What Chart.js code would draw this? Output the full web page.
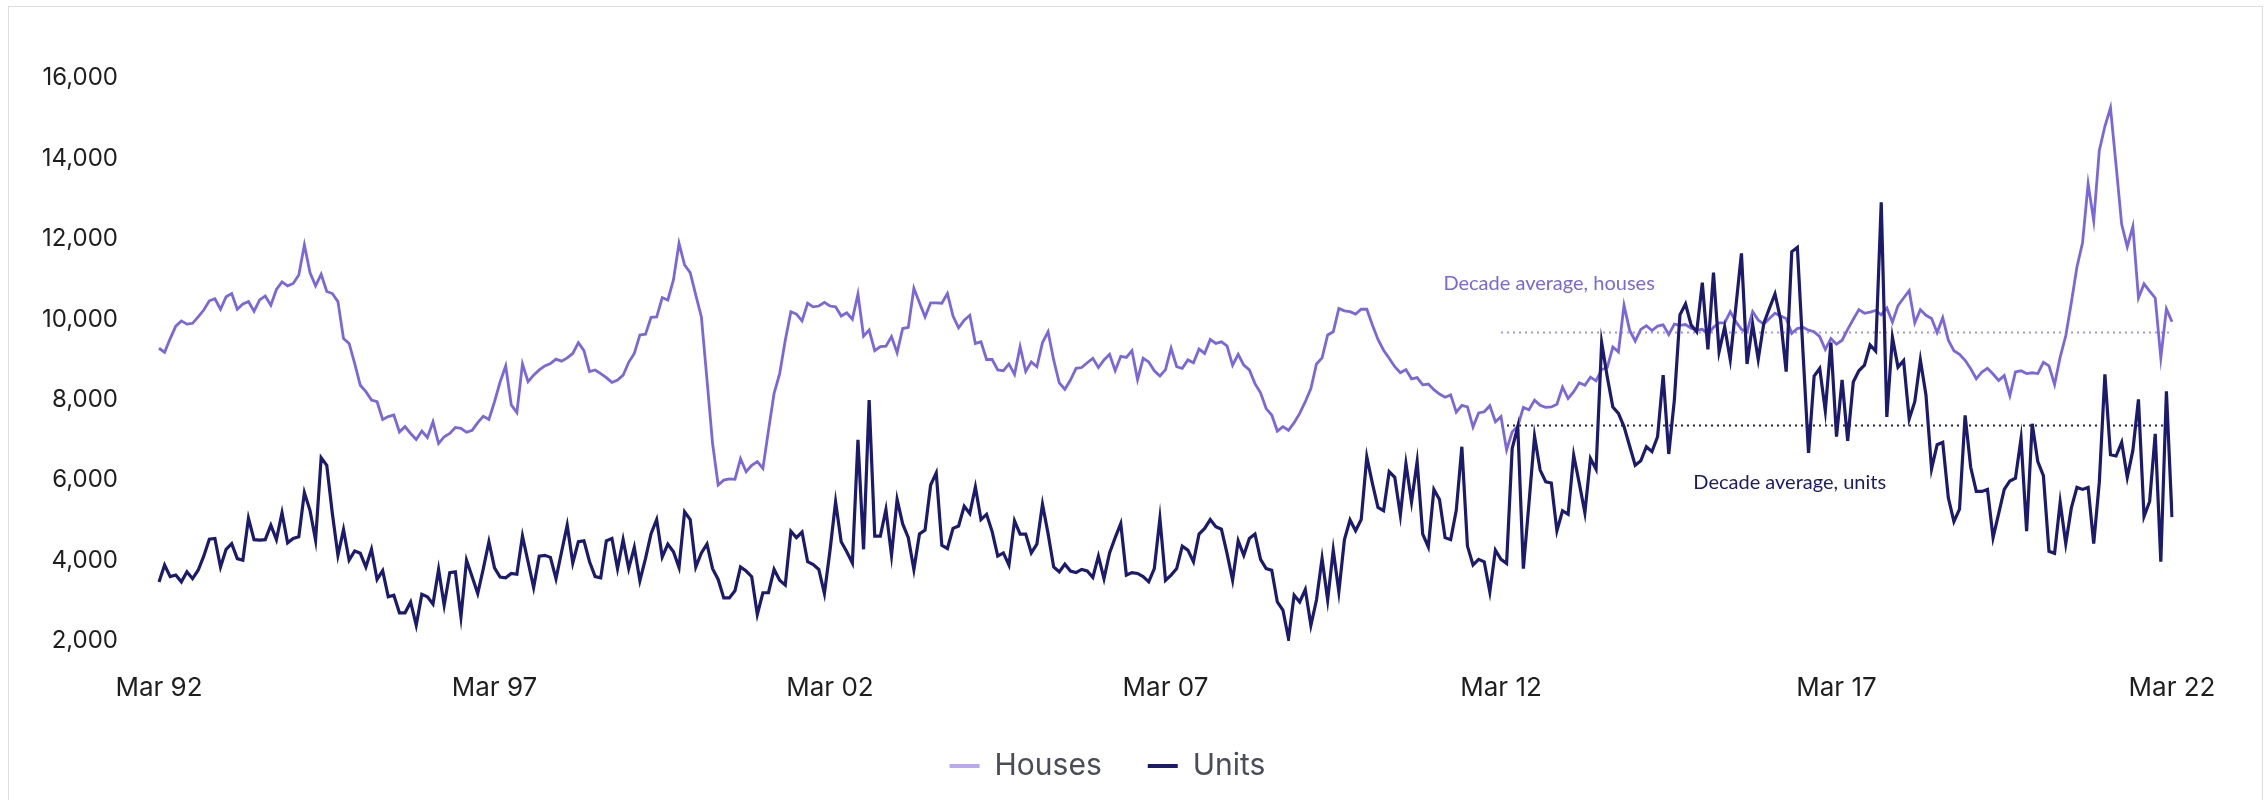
<!DOCTYPE html>
<html>
<head>
<meta charset="utf-8">
<script src="https://cdn.jsdelivr.net/npm/chart.js@4"></script>
<style>
  html, body { margin: 0; padding: 0; background: #fff; overflow: hidden; }
  .card {
    position: absolute; left: 8px; top: 6px;
    width: 2253px; height: 830px;
    border: 1px solid #dedede;
  }
  .wrap { position: relative; width: 2253px; height: 793px; }
</style>
</head>
<body>
<div class="card"><div class="wrap"><canvas id="myChart"></canvas></div></div>
<script>
// Monthly values, Mar 1992 to Mar 2022
const houses = [
  9280, 9180, 9520, 9830, 9960, 9880, 9900, 10060, 10230, 10460,
  10510, 10250, 10560, 10640, 10250, 10380, 10440, 10200, 10480, 10580,
  10350, 10740, 10930, 10830, 10890, 11100, 11850, 11160, 10830, 11120,
  10690, 10640, 10440, 9520, 9400, 8900, 8360, 8200, 7990, 7950,
  7510, 7580, 7620, 7200, 7330, 7160, 7010, 7220, 7060, 7450,
  6910, 7080, 7160, 7310, 7290, 7190, 7240, 7430, 7590, 7510,
  7950, 8440, 8840, 7870, 7680, 8890, 8450, 8610, 8740, 8840,
  8900, 9010, 8960, 9040, 9150, 9420, 9220, 8700, 8740, 8650,
  8550, 8430, 8490, 8610, 8930, 9150, 9610, 9630, 10050, 10060,
  10540, 10480, 10980, 11890, 11350, 11160, 10600, 10060, 8500, 6910,
  5880, 6000, 6030, 6020, 6530, 6210, 6370, 6460, 6290, 7240,
  8160, 8650, 9480, 10190, 10130, 9960, 10400, 10310, 10330, 10420,
  10330, 10310, 10080, 10160, 10000, 10630, 9580, 9730, 9220, 9320,
  9330, 9570, 9170, 9770, 9800, 10770, 10410, 10060, 10410, 10410,
  10400, 10640, 10080, 9790, 9980, 10100, 9400, 9440, 9000, 9000,
  8740, 8720, 8890, 8630, 9320, 8700, 8940, 8820, 9420, 9690,
  8990, 8420, 8260, 8490, 8780, 8800, 8920, 9030, 8800, 8990,
  9130, 8720, 9080, 9050, 9220, 8500, 9030, 8940, 8720, 8590,
  8750, 9280, 8820, 8780, 8990, 8920, 9260, 9150, 9500, 9400,
  9440, 9340, 8860, 9130, 8860, 8740, 8400, 8170, 7780, 7620,
  7220, 7330, 7240, 7430, 7660, 7950, 8280, 8890, 9040, 9610,
  9690, 10270, 10210, 10190, 10130, 10250, 10250, 9860, 9500, 9230,
  9030, 8820, 8670, 8750, 8520, 8550, 8370, 8390, 8250, 8140,
  8060, 8120, 7690, 7860, 7820, 7320, 7670, 7700, 7850, 7450,
  7580, 6750, 7200, 7340, 7810, 7750, 7990, 7860, 7810, 7820,
  7890, 8310, 8030, 8200, 8420, 8360, 8560, 8470, 8750, 8800,
  9310, 9190, 10350, 9730, 9460, 9750, 9840, 9720, 9830, 9860,
  9620, 9880, 9850, 9870, 9780, 9730, 9750, 9630, 9800, 9910,
  9910, 10190, 9940, 9750, 9690, 10190, 9980, 9880, 10020, 10150,
  10080, 10020, 9650, 9770, 9800, 9730, 9690, 9570, 9250, 9520,
  9380, 9480, 9750, 10000, 10240, 10150, 10180, 10220, 10110, 10280,
  9930, 10340, 10530, 10710, 9910, 10240, 10100, 10020, 9670, 10040,
  9480, 9220, 9130, 8980, 8770, 8520, 8690, 8780, 8640, 8480,
  8600, 8100, 8690, 8720, 8650, 8670, 8650, 8930, 8840, 8380,
  9060, 9590, 10420, 11300, 11900, 13370, 12450, 14200, 14800, 15260,
  13830, 12360, 11800, 12310, 10530, 10880, 10700, 10530, 9040, 10260, 9940
];

const units = [
  3470, 3890, 3600, 3640, 3470, 3720, 3550, 3760, 4110, 4530,
  4550, 3840, 4280, 4420, 4050, 4010, 5050, 4520, 4510, 4520,
  4880, 4520, 5190, 4440, 4550, 4590, 5690, 5250, 4510, 6560,
  6370, 5170, 4130, 4770, 4010, 4240, 4180, 3840, 4280, 3530,
  3750, 3100, 3140, 2700, 2700, 2970, 2390, 3160, 3100, 2920,
  3780, 2890, 3700, 3720, 2600, 4010, 3600, 3180, 3800, 4470,
  3820, 3590, 3570, 3680, 3660, 4610, 3970, 3330, 4110, 4130,
  4080, 3550, 4220, 4880, 3940, 4470, 4490, 3970, 3600, 3570,
  4490, 4550, 3800, 4520, 3800, 4330, 3500, 4050, 4670, 5020,
  4090, 4410, 4220, 3830, 5210, 5020, 3840, 4190, 4410, 3800,
  3530, 3070, 3070, 3250, 3840, 3740, 3600, 2660, 3200, 3200,
  3780, 3510, 3390, 4730, 4570, 4710, 3970, 3900, 3780, 3180,
  4250, 5460, 4470, 4220, 3940, 7000, 4280, 7990, 4610, 4610,
  5270, 4130, 5520, 4910, 4570, 3780, 4660, 4760, 5880, 6180,
  4380, 4300, 4800, 4860, 5350, 5170, 5830, 5020, 5150, 4720,
  4110, 4190, 3890, 4990, 4660, 4660, 4190, 4410, 5400, 4670,
  3840, 3720, 3910, 3740, 3700, 3780, 3740, 3580, 4110, 3550,
  4190, 4570, 4920, 3640, 3700, 3680, 3600, 3470, 3800, 5050,
  3510, 3640, 3800, 4360, 4260, 3970, 4660, 4800, 5020, 4840,
  4780, 4180, 3510, 4490, 4130, 4550, 4660, 4030, 3800, 3760,
  2970, 2770, 2060, 3140, 2970, 3280, 2390, 3020, 4050, 3020,
  4260, 3220, 4520, 5010, 4740, 5020, 6580, 5920, 5320, 5240,
  6210, 6070, 5130, 6410, 5460, 6460, 4660, 4340, 5770, 5520,
  4570, 4520, 5250, 6830, 4360, 3890, 4030, 3970, 3220, 4260,
  4030, 3930, 6790, 7330, 3800, 5420, 7090, 6250, 5960, 5930,
  4740, 5240, 5150, 6620, 5920, 5190, 6540, 6270, 9420, 8570,
  7820, 7660, 7330, 6850, 6370, 6480, 6830, 6710, 7080, 8610,
  6650, 7990, 10110, 10380, 9860, 9690, 10910, 9250, 11160, 9190,
  9810, 9000, 10310, 11640, 8890, 9880, 9000, 9900, 10270, 10630,
  10000, 8700, 11680, 11790, 9200, 6680, 8590, 8780, 7720, 9420,
  7080, 8490, 6980, 8440, 8720, 8860, 9360, 9210, 12910, 7570,
  9550, 8810, 8970, 7520, 7950, 8990, 8120, 6280, 6880, 6940,
  5560, 4970, 5280, 7610, 6320, 5720, 5720, 5770, 4570, 5170,
  5770, 5980, 6050, 7030, 4730, 7400, 6460, 6110, 4230, 4180,
  5450, 4420, 5310, 5820, 5770, 5820, 4420, 5950, 8630, 6630,
  6600, 6940, 6070, 6740, 8010, 5100, 5470, 7150, 3970, 8210, 5080
];

// Decade averages (Mar 12 - Mar 22)
const houseDecadeAvg = 9670;
const unitDecadeAvg = 7360;
const decadeStart = 'Mar 12';
const decadeEnd = 'Mar 22';

// x-axis tick labels shown
const tickLabels = ['Mar 92', 'Mar 97', 'Mar 02', 'Mar 07', 'Mar 12', 'Mar 17', 'Mar 22'];

// Category labels: one per month from Mar 92
const monthNames = ['Jan', 'Feb', 'Mar', 'Apr', 'May', 'Jun', 'Jul', 'Aug', 'Sep', 'Oct', 'Nov', 'Dec'];
const months = [];
for (let i = 0; i < houses.length; i++) {
    const m = 2 + i;
    months.push(monthNames[m % 12] + ' ' + String(1992 + Math.floor(m / 12)).slice(2));
}

const HOUSE_COL = '#7b66dc';
const UNIT_COL = '#1b1a6c';
const legendFill = ['#b9a7f0', UNIT_COL];

// annotation text, anchored to data coordinates (month index, value)
const notes = [
    { text: 'Decade average, houses', at: 229.7, value: 10880, color: HOUSE_COL },
    { text: 'Decade average, units', at: 274.4, value: 5950, color: UNIT_COL }
];

const noteLabels = {
    id: 'noteLabels',
    afterDatasetsDraw(chart) {
        const { ctx, scales: { x, y } } = chart;
        ctx.save();
        ctx.font = '20px Lato';
        ctx.textBaseline = 'middle';
        ctx.textAlign = 'left';
        notes.forEach(n => {
            ctx.fillStyle = n.color;
            ctx.fillText(n.text, x.getPixelForValue(n.at), y.getPixelForValue(n.value));
        });
        ctx.restore();
    }
};

new Chart(document.getElementById('myChart'), {
    type: 'line',
    data: {
        labels: months,
        datasets: [{
            label: 'Houses',
            data: houses,
            borderColor: HOUSE_COL,
            backgroundColor: legendFill[0],
            borderWidth: 2.8,
            pointRadius: 0,
            order: 2
        }, {
            label: 'Units',
            data: units,
            borderColor: UNIT_COL,
            backgroundColor: UNIT_COL,
            borderWidth: 3.2,
            pointRadius: 0,
            order: 1
        }, {
            label: 'Houses decade average',
            data: [{ x: decadeStart, y: houseDecadeAvg }, { x: decadeEnd, y: houseDecadeAvg }],
            borderColor: '#a795ea',
            borderWidth: 2,
            borderDash: [2, 4],
            pointRadius: 0,
            order: 3
        }, {
            label: 'Units decade average',
            data: [{ x: decadeStart, y: unitDecadeAvg }, { x: decadeEnd, y: unitDecadeAvg }],
            borderColor: UNIT_COL,
            borderWidth: 2,
            borderDash: [2, 4],
            pointRadius: 0,
            order: 3
        }]
    },
    options: {
        animation: false,
        responsive: true,
        maintainAspectRatio: false,
        layout: { padding: { left: 34, right: 90, top: 71, bottom: 9 } },
        scales: {
            x: {
                grid: { display: false },
                border: { display: false },
                afterFit: scale => { scale.height = 64; },
                ticks: {
                    autoSkip: false,
                    maxRotation: 0,
                    padding: 24,
                    color: '#1e1e1e',
                    font: { family: 'Inter', size: 26 },
                    callback: (value, index) => tickLabels.includes(months[index]) ? months[index] : null
                }
            },
            y: {
                min: 2000,
                max: 16000,
                grid: { display: false },
                border: { display: false },
                afterFit: scale => { scale.width = 116; },
                ticks: {
                    stepSize: 2000,
                    padding: 33,
                    color: '#1e1e1e',
                    font: { family: 'Inter', size: 24 },
                    callback: v => v.toLocaleString('en-US')
                }
            }
        },
        plugins: {
            tooltip: { enabled: false },
            legend: {
                position: 'bottom',
                labels: {
                    boxWidth: 30,
                    boxHeight: 4,
                    padding: 46,
                    color: '#4a4c57',
                    font: { family: 'Inter', size: 30 },
                    filter: item => item.datasetIndex < 2,
                    sort: (a, b) => a.datasetIndex - b.datasetIndex,
                    generateLabels: chart => Chart.defaults.plugins.legend.labels.generateLabels(chart)
                        .map(item => ({ ...item, fillStyle: legendFill[item.datasetIndex], lineWidth: 0 }))
                }
            }
        }
    },
    plugins: [noteLabels]
});
</script>
</body>
</html>
